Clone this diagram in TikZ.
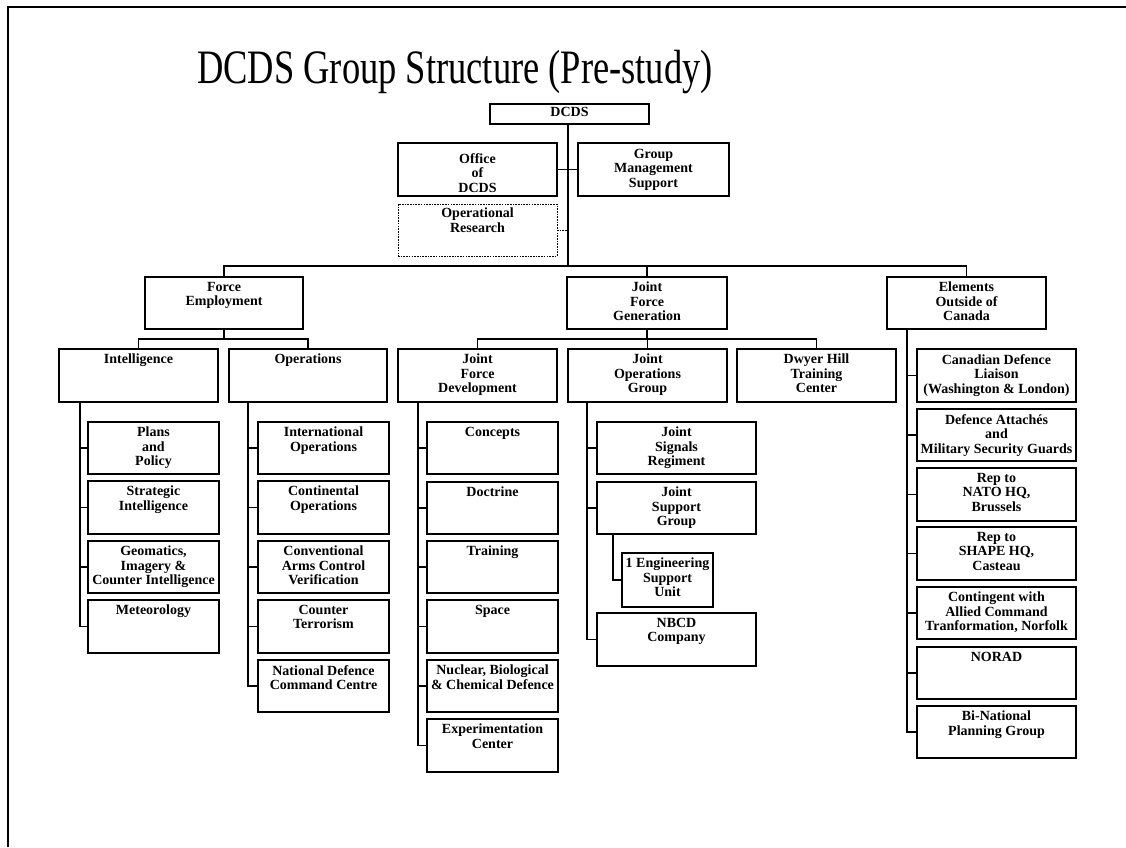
\documentclass[tikz,border=0pt]{standalone}
\usepackage{fontspec}
\usepackage{graphicx}
\setmainfont{Liberation Serif}
\usetikzlibrary{calc}

\tikzset{
  unitbox/.style={draw=black, line width=1.2pt, rectangle, inner sep=0pt, outer sep=0pt},
  dashbox/.style={unitbox, line width=0.9pt, dash pattern=on 1.6pt off 1.1pt},
  unittext/.style={anchor=north, align=center, inner sep=0pt,
    font=\bfseries\fontsize{14}{14.5}\selectfont},
  link/.style={draw=black, line width=1.3pt},
  dashlink/.style={link, line width=0.9pt, dash pattern=on 1.6pt off 1.1pt},
}

% \obox{name}{style}{x1}{y1}{x2}{y2}{text}: box by corners, text hung from its top
\newcommand\obox[7]{%
  \node[#2, minimum width={#5-#3}, minimum height={#6-#4}] (#1) at ({(#3+#5)/2},{(#4+#6)/2}) {};%
  \node[unittext] (#1-t) at ($(#1.north)+(0,5)$) {#7};%
}
% same, with its own gap between box top and text
\newcommand\oboxoff[8]{%
  \node[#2, minimum width={#5-#3}, minimum height={#6-#4}] (#1) at ({(#3+#5)/2},{(#4+#6)/2}) {};%
  \node[unittext] (#1-t) at ($(#1.north)+(0,#7)$) {#8};%
}

\begin{document}
\begin{tikzpicture}[x=1pt, y=-1pt]
\useasboundingbox (0,0) rectangle (1126,847);

% page frame
\draw[line width=2.2pt] (8,847) -- (8,7) -- (1126,7);

% title
\node[anchor=base, inner sep=0pt] (title) at (455,83)
  {\scalebox{0.76}[1]{\fontsize{48}{50}\selectfont DCDS Group Structure (Pre-study)}};

% head of group
\oboxoff{dcds}{unitbox}{490}{104}{649}{124}{3}{DCDS}
\oboxoff{off}{unitbox}{398}{143}{557}{196}{10}{Office\\of\\DCDS}
\oboxoff{gms}{unitbox}{578}{143}{729}{196}{6}{Group\\Management\\Support}
\oboxoff{opr}{dashbox}{398}{204}{557}{256}{4}{Operational\\Research}

% second level
\obox{fe}{unitbox}{145}{277}{303}{329}{Force\\Employment}
\obox{jfg}{unitbox}{567}{277}{727}{329}{Joint\\Force\\Generation}
\obox{eoc}{unitbox}{887}{277}{1046}{329}{Elements\\Outside of\\Canada}

% third level
\obox{int}{unitbox}{59}{349}{218}{402}{Intelligence}
\obox{ops}{unitbox}{229}{349}{387}{402}{Operations}
\obox{jfd}{unitbox}{398}{349}{557}{402}{Joint\\Force\\Development}
\obox{jog}{unitbox}{568}{349}{727}{402}{Joint\\Operations\\Group}
\obox{dwy}{unitbox}{737}{349}{896}{402}{Dwyer Hill\\Training\\Center}

% Intelligence units
\obox{pp}{unitbox}{88}{422}{219}{474}{Plans\\and\\Policy}
\obox{si}{unitbox}{88}{481}{219}{534}{Strategic\\Intelligence}
\obox{gic}{unitbox}{88}{541}{219}{593}{Geomatics,\\Imagery \&\\Counter Intelligence}
\obox{met}{unitbox}{88}{600}{219}{653}{Meteorology}

% Operations units
\obox{io}{unitbox}{258}{422}{389}{474}{International\\Operations}
\obox{co}{unitbox}{258}{481}{389}{534}{Continental\\Operations}
\obox{cacv}{unitbox}{258}{541}{389}{593}{Conventional\\Arms Control\\Verification}
\obox{ct}{unitbox}{258}{600}{389}{653}{Counter\\Terrorism}
\obox{ndcc}{unitbox}{258}{660}{389}{712}{National Defence\\Command Centre}

% Joint Force Development units
\obox{con}{unitbox}{427}{422}{558}{474}{Concepts}
\obox{doc}{unitbox}{427}{482}{558}{534}{Doctrine}
\obox{trn}{unitbox}{427}{541}{558}{593}{Training}
\obox{spc}{unitbox}{427}{600}{558}{653}{Space}
\obox{nbc}{unitbox}{427}{660}{558}{712}{Nuclear, Biological\\\& Chemical Defence}
\obox{exp}{unitbox}{427}{719}{558}{772}{Experimentation\\Center}

% Joint Operations Group units
\obox{jsr}{unitbox}{597}{422}{756}{474}{Joint\\Signals\\Regiment}
\obox{jsg}{unitbox}{597}{482}{756}{534}{Joint\\Support\\Group}
\obox{eng}{unitbox}{622}{553}{713}{607}{1 Engineering\\Support\\Unit}
\obox{nbcd}{unitbox}{597}{613}{756}{666}{NBCD\\Company}

% Elements outside of Canada
\obox{cdl}{unitbox}{917}{349}{1076}{402}{Canadian Defence\\Liaison\\(Washington \& London)}
\obox{da}{unitbox}{917}{409}{1076}{461}{Defence Attachés\\and\\Military Security Guards}
\obox{nato}{unitbox}{917}{468}{1076}{521}{Rep to\\NATO HQ,\\Brussels}
\obox{shape}{unitbox}{917}{527}{1076}{580}{Rep to\\SHAPE HQ,\\Casteau}
\obox{acf}{unitbox}{917}{587}{1076}{639}{Contingent with\\Allied Command\\Tranformation, Norfolk}
\obox{norad}{unitbox}{917}{647}{1076}{699}{NORAD}
\obox{bnpg}{unitbox}{917}{706}{1076}{758}{Bi-National\\Planning Group}

% trunk and staff links
\coordinate (mainbar) at (568,266);
\draw[link] (dcds.south -| mainbar) -- (mainbar);
\draw[link] (off.east) -- (gms.west);
\draw[dashlink] (opr.east) -- (opr.east -| mainbar);
\draw[link] (fe.north) |- (mainbar) -| (eoc.north);
\draw[link] (jfg.north) -- (jfg.north |- mainbar);

% Force Employment branch
\coordinate (febar) at ($(fe.south)+(0,10)$);
\draw[link] (fe.south) -- (febar);
\draw[link] (int.north) |- (febar) -| (ops.north);

% Joint Force Generation branch
\coordinate (jfgbar) at ($(jfg.south)+(0,10)$);
\draw[link] (jfg.south) -- (jfgbar);
\draw[link] (jfd.north) |- (jfgbar) -| (dwy.north);
\draw[link] (jog.north) -- (jog.north |- jfgbar);

% unit links
\foreach \c in {pp,si,gic,met} \draw[link] ([xshift=21pt]int.south west) |- (\c.west);
\foreach \c in {io,co,cacv,ct,ndcc} \draw[link] ([xshift=19pt]ops.south west) |- (\c.west);
\foreach \c in {con,doc,trn,spc,nbc,exp} \draw[link] ([xshift=20pt]jfd.south west) |- (\c.west);
\foreach \c in {jsr,jsg,nbcd} \draw[link] ([xshift=19pt]jog.south west) |- (\c.west);
\draw[link] ([xshift=16pt]jsg.south west) |- (eng.west);
\foreach \c in {cdl,da,nato,shape,acf,norad,bnpg} \draw[link] ([xshift=20pt]eoc.south west) |- (\c.west);
\end{tikzpicture}
\end{document}
